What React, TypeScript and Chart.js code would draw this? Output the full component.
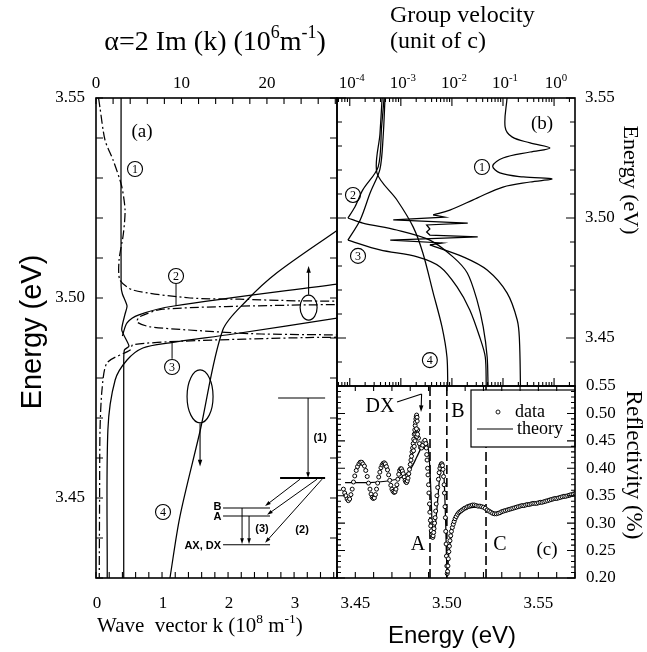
import React, { useEffect, useRef } from 'react';
import { Chart, registerables } from 'chart.js';

Chart.register(...registerables);

const W = 647;
const H = 652;
const SERIF = '"Liberation Serif", "DejaVu Serif", "Times New Roman", serif';
const SANS = '"Liberation Sans", "DejaVu Sans", Arial, sans-serif';

// ---------------- Panel (a): Re(k) (10^8 m^-1) and alpha (10^6 m^-1) vs energy (eV)
const branch1K = [0.38, 0.38, 0.40, 0.47, 0.44, 0.39, 0.50, 0.43, 0.42, 0.42];
const branch1E = [3.55, 3.503, 3.501, 3.498, 3.496, 3.492, 3.488, 3.487, 3.484, 3.43];
const branch2K = [0.40, 0.47, 0.65, 1.18, 3.66];
const branch2E = [3.4905, 3.4938, 3.4958, 3.498, 3.5035];
const branch3K = [0.17, 0.18, 0.29, 0.47, 0.71, 1.12, 2.08, 3.66];
const branch3E = [3.43, 3.467, 3.4795, 3.4845, 3.4875, 3.4888, 3.491, 3.495];
const branch4K = [1.12, 1.27, 1.58, 1.92, 2.29, 2.74, 3.66];
const branch4E = [3.43, 3.4453, 3.467, 3.492, 3.4995, 3.5063, 3.517];
const alphaE = [3.55, 3.5475, 3.5395, 3.5345, 3.528, 3.522, 3.516, 3.5095, 3.5045, 3.502, 3.5, 3.4997, 3.4993, 3.4988, 3.4982, 3.4972, 3.4953, 3.494, 3.4928, 3.492, 3.491, 3.4905, 3.4901, 3.4892, 3.4883, 3.487, 3.4838, 3.477, 3.467, 3.45, 3.43];
const alphaV = [0.3, 0.47, 1.05, 2.0, 3.0, 3.4, 3.2, 2.7, 2.8, 4.3, 11, 16.8, 23.5, 45, 22.6, 7.8, 5.1, 4.8, 6.3, 10.9, 19.4, 45, 24.7, 10, 4.3, 4.0, 1.3, 0.7, 0.47, 0.42, 0.38];

// ---------------- Panel (b): group velocity (unit of c) vs energy (eV)
const gv1TopE = [3.55, 3.538, 3.5338, 3.5313, 3.5292, 3.5275, 3.525, 3.5217, 3.5188, 3.5171, 3.5163, 3.515, 3.5129, 3.5083, 3.5033, 3.5013];
const gv1TopV = [0.12, 0.11, 0.15, 0.34, 0.83, 0.34, 0.10, 0.063, 0.087, 0.25, 0.91, 0.34, 0.10, 0.031, 0.0091, 0.0043];
const gv1SpikeE = [3.5013, 3.5004, 3.4992, 3.4979, 3.4971, 3.4954, 3.4942, 3.4929, 3.4921, 3.4908, 3.4896, 3.4888];
const gv1SpikeV = [0.0043, 0.0072, 0.00071, 0.0204, 0.0032, 0.0037, 0.0032, 0.0037, 0.032, 0.00062, 0.0065, 0.0037];
const gv1TailE = [3.4888, 3.4838, 3.4783, 3.4688, 3.4575, 3.4492, 3.43];
const gv1TailV = [0.0037, 0.0166, 0.049, 0.12, 0.19, 0.21, 0.22];
const gv2UpE = [3.55, 3.538, 3.5213, 3.5117, 3.5046, 3.50];
const gv2UpV = [4.7e-4, 4.2e-4, 3.6e-4, 1.8e-4, 1.26e-4, 9.2e-5];
const gv2LowE = [3.50, 3.4979, 3.495, 3.4908, 3.4838, 3.4771, 3.4658, 3.4546, 3.4421, 3.43];
const gv2LowV = [9.2e-5, 1.8e-4, 8.3e-4, 3.7e-3, 1.05e-2, 2.0e-2, 3.1e-2, 4.1e-2, 4.9e-2, 5.1e-2];
const gv3UpE = [3.55, 3.5338, 3.5204, 3.5104, 3.4992, 3.4908];
const gv3UpV = [4.9e-4, 4.5e-4, 3.9e-4, 2.5e-4, 1.6e-4, 9.2e-5];
const gv3LowE = [3.4908, 3.4867, 3.4838, 3.4796, 3.4713, 3.4617, 3.4504, 3.4421, 3.43];
const gv3LowV = [9.2e-5, 3.9e-4, 2.1e-3, 5.9e-3, 1.26e-2, 2.24e-2, 3.5e-2, 4.5e-2, 4.7e-2];
const gv4E = [3.55, 3.535, 3.5188, 3.5075, 3.4963, 3.4854, 3.4688, 3.4546, 3.4421, 3.43];
const gv4V = [4.3e-4, 3.9e-4, 3.4e-4, 8.4e-4, 1.74e-3, 2.7e-3, 4.3e-3, 6.4e-3, 8.0e-3, 8.3e-3];

// ---------------- Panel (c): reflectivity vs energy (eV)
const reflDataE = [
  3.4435, 3.4442, 3.4448, 3.4455, 3.4462, 3.4469, 3.4476, 3.4483, 3.449, 3.4497, 3.4505, 3.4512, 3.452, 3.4527, 3.4535, 3.4542, 3.455, 3.4557, 3.4565, 3.4572, 3.458, 3.4586, 3.4592, 3.4598, 3.4604, 3.461, 3.4616, 3.4622, 3.4628, 3.4634, 3.464, 3.4646, 3.4652, 3.4658, 3.4664, 3.467, 3.4676, 3.4682, 3.4688, 3.4694, 3.47, 3.4706, 3.4712, 3.4717, 3.4722, 3.4727, 3.4732, 3.4737, 3.4742, 3.4747, 3.4752, 3.4757, 3.4762, 3.4767, 3.4772, 3.4776, 3.478, 3.4784, 3.4788, 3.4792, 3.4796, 3.48, 3.4804, 3.4807, 3.481, 3.4813, 3.4816, 3.4819, 3.4822, 3.4825, 3.4827, 3.4829, 3.4831, 3.4833, 3.4835, 3.4837, 3.4838, 3.4841, 3.4845, 3.485, 3.4856, 3.4862, 3.4868, 3.4874, 3.488, 3.4885, 3.4888, 3.489, 3.4892, 3.4895, 3.4897, 3.49, 3.4902, 3.4905, 3.4907, 3.491, 3.4912, 3.4915, 3.4918, 3.492, 3.4923, 3.4925, 3.4928, 3.493, 3.4933, 3.4936, 3.4939, 3.4942, 3.4946, 3.495, 3.4954, 3.4958, 3.4962, 3.4966, 3.497, 3.4973, 3.4976, 3.4979, 3.4982, 3.4985, 3.4987, 3.499, 3.4992, 3.4994, 3.4996, 3.4998, 3.5, 3.5002, 3.5004, 3.5006, 3.5008, 3.5011, 3.5014, 3.5017, 3.5021, 3.5025, 3.503, 3.5035, 3.504, 3.5045, 3.5051, 3.5058, 3.5065, 3.5072, 3.508, 3.5088, 3.5096, 3.5105, 3.5113, 3.5122, 3.5131, 3.514, 3.515, 3.516, 3.517, 3.518, 3.519, 3.52, 3.521, 3.522, 3.523, 3.524, 3.525, 3.526, 3.527, 3.528, 3.529, 3.53, 3.531, 3.532, 3.533, 3.534, 3.535, 3.536, 3.537, 3.538, 3.539, 3.54, 3.541, 3.542, 3.543, 3.544, 3.545, 3.546, 3.547, 3.548, 3.549, 3.55, 3.551, 3.552, 3.553, 3.554, 3.555, 3.556, 3.557, 3.558, 3.559, 3.56, 3.561, 3.562, 3.563, 3.564, 3.565, 3.566, 3.567, 3.568, 3.569, 3.57,
  3.4826, 3.483, 3.4834, 3.4836, 3.484, 3.4818, 3.4822,
];
const reflDataR = [
  0.362, 0.355, 0.35, 0.344, 0.341, 0.344, 0.352, 0.362, 0.375, 0.386, 0.396, 0.403, 0.408, 0.411, 0.411, 0.408, 0.404, 0.396, 0.385, 0.373, 0.362, 0.353, 0.347, 0.345, 0.346, 0.352, 0.362, 0.373, 0.384, 0.393, 0.401, 0.406, 0.409, 0.41, 0.408, 0.403, 0.397, 0.388, 0.378, 0.369, 0.362, 0.358, 0.356, 0.357, 0.362, 0.37, 0.38, 0.389, 0.396, 0.399, 0.399, 0.395, 0.39, 0.384, 0.378, 0.375, 0.374, 0.377, 0.382, 0.39, 0.398, 0.407, 0.415, 0.422, 0.43, 0.437, 0.445, 0.453, 0.462, 0.47, 0.478, 0.484, 0.49, 0.494, 0.497, 0.493, 0.486, 0.47, 0.455, 0.445, 0.438, 0.437, 0.442, 0.448, 0.451, 0.445, 0.437, 0.425, 0.415, 0.4, 0.388, 0.37, 0.355, 0.335, 0.32, 0.305, 0.295, 0.286, 0.279, 0.275, 0.274, 0.277, 0.283, 0.29, 0.3, 0.31, 0.322, 0.335, 0.35, 0.365, 0.38, 0.392, 0.4, 0.405, 0.408, 0.408, 0.405, 0.398, 0.385, 0.37, 0.355, 0.33, 0.31, 0.285, 0.262, 0.24, 0.222, 0.208, 0.212, 0.222, 0.235, 0.248, 0.258, 0.268, 0.277, 0.285, 0.292, 0.298, 0.303, 0.308, 0.312, 0.316, 0.319, 0.321, 0.323, 0.325, 0.327, 0.328, 0.33, 0.331, 0.332, 0.333, 0.333, 0.332, 0.331, 0.331, 0.33, 0.329, 0.327, 0.324, 0.322, 0.32, 0.318, 0.317, 0.317, 0.318, 0.319, 0.321, 0.322, 0.323, 0.324, 0.325, 0.326, 0.327, 0.328, 0.329, 0.33, 0.331, 0.332, 0.332, 0.333, 0.334, 0.334, 0.335, 0.336, 0.336, 0.336, 0.337, 0.338, 0.338, 0.339, 0.34, 0.341, 0.342, 0.343, 0.344, 0.345, 0.345, 0.346, 0.347, 0.348, 0.349, 0.349, 0.35, 0.351, 0.352, 0.353, 0.354,
  0.45, 0.462, 0.472, 0.458, 0.462, 0.432, 0.44,
];
const theoryE = [3.4444, 3.458, 3.4727, 3.478, 3.4808, 3.4835, 3.4862, 3.488, 3.4893, 3.4904, 3.4913, 3.4922, 3.4929, 3.4944, 3.4962, 3.4975, 3.4984, 3.4993, 3.5002, 3.5013, 3.5035, 3.5071, 3.5126, 3.5199, 3.5272, 3.5381, 3.5545, 3.571];
const theoryR = [0.374, 0.374, 0.38, 0.39, 0.402, 0.42, 0.439, 0.451, 0.448, 0.417, 0.356, 0.283, 0.276, 0.319, 0.387, 0.408, 0.387, 0.307, 0.209, 0.252, 0.295, 0.319, 0.328, 0.328, 0.318, 0.327, 0.339, 0.351];
const excitonLineE = [3.4908, 3.5, 3.5214]; // A, B, C

// ---------------- tick labels
const energyTickLabelsA = [3.45, 3.5, 3.55];
const kTickLabels = [0, 1, 2, 3];
const alphaTickLabels = [0, 10, 20];
const gvDecadeExponents = [-4, -3, -2, -1, 0];
const energyTickLabelsB = [3.45, 3.5, 3.55];
const energyTickLabelsC = [3.45, 3.5, 3.55];
const reflTickLabels = [0.2, 0.25, 0.3, 0.35, 0.4, 0.45, 0.5, 0.55];

// ---------------- helpers
type Pt = { x: number; y: number };
const zip = (xs: number[], ys: number[]): Pt[] => xs.map((x, i) => ({ x, y: ys[i] }));

function steps(a: number, b: number, s: number): number[] {
  const out: number[] = [];
  const n = Math.round((b - a) / s);
  for (let i = 0; i <= n; i++) out.push(+(a + i * s).toFixed(6));
  return out;
}

function lineDs(data: Pt[], xAxisID: string, opts: any = {}) {
  return {
    data, xAxisID, yAxisID: 'y', showLine: true, borderColor: '#000', backgroundColor: '#000',
    borderWidth: 1.25, pointRadius: 0, pointHoverRadius: 0, tension: 0.3, fill: false, ...opts,
  };
}

function baseOpts(padding: any) {
  return {
    responsive: false, animation: false, devicePixelRatio: 1, events: [],
    layout: { padding },
    plugins: { legend: { display: false }, tooltip: { enabled: false }, title: { display: false } },
  };
}

function vTicks(ctx: any, scale: any, x: number, dir: number, values: number[], len: (v: number) => number, ca: any) {
  ctx.beginPath();
  for (const v of values) {
    const y = scale.getPixelForValue(v);
    if (y < ca.top - 0.5 || y > ca.bottom + 0.5) continue;
    ctx.moveTo(x, y);
    ctx.lineTo(x + dir * len(v), y);
  }
  ctx.stroke();
}

function hTicks(ctx: any, scale: any, y: number, dir: number, values: number[], len: (v: number) => number, ca: any) {
  ctx.beginPath();
  for (const v of values) {
    const x = scale.getPixelForValue(v);
    if (x < ca.left - 0.5 || x > ca.right + 0.5) continue;
    ctx.moveTo(x, y);
    ctx.lineTo(x, y + dir * len(v));
  }
  ctx.stroke();
}

function txt(ctx: any, s: string, x: number, y: number, font: string, align = 'center', baseline = 'middle') {
  ctx.font = font;
  ctx.textAlign = align;
  ctx.textBaseline = baseline;
  ctx.fillText(s, x, y);
}

type Seg = { t: string; sup?: boolean };
function rich(ctx: any, segs: Seg[], x: number, y: number, size: number, family: string, align = 'center') {
  const supSize = size * 0.64;
  let w = 0;
  for (const s of segs) {
    ctx.font = `${s.sup ? supSize : size}px ${family}`;
    w += ctx.measureText(s.t).width;
  }
  let cx = align === 'left' ? x : align === 'center' ? x - w / 2 : x - w;
  ctx.textAlign = 'left';
  ctx.textBaseline = 'alphabetic';
  for (const s of segs) {
    ctx.font = `${s.sup ? supSize : size}px ${family}`;
    ctx.fillText(s.t, cx, s.sup ? y - size * 0.42 : y);
    cx += ctx.measureText(s.t).width;
  }
}

function rotTxt(ctx: any, s: string, x: number, y: number, font: string, angle: number) {
  ctx.save();
  ctx.translate(x, y);
  ctx.rotate(angle);
  txt(ctx, s, 0, 0, font);
  ctx.restore();
}

function circNum(ctx: any, x: number, y: number, n: number) {
  ctx.beginPath();
  ctx.lineWidth = 1.1;
  ctx.arc(x, y, 7.5, 0, Math.PI * 2);
  ctx.stroke();
  txt(ctx, String(n), x, y + 0.5, `12px ${SERIF}`);
}

function seg(ctx: any, x1: number, y1: number, x2: number, y2: number, lw = 1.1) {
  ctx.beginPath();
  ctx.lineWidth = lw;
  ctx.moveTo(x1, y1);
  ctx.lineTo(x2, y2);
  ctx.stroke();
}

function arrow(ctx: any, x1: number, y1: number, x2: number, y2: number, head = 7, lw = 1.1) {
  const a = Math.atan2(y2 - y1, x2 - x1);
  seg(ctx, x1, y1, x2 - Math.cos(a) * head * 0.6, y2 - Math.sin(a) * head * 0.6, lw);
  ctx.beginPath();
  ctx.moveTo(x2, y2);
  ctx.lineTo(x2 - head * Math.cos(a - 0.32), y2 - head * Math.sin(a - 0.32));
  ctx.lineTo(x2 - head * Math.cos(a + 0.32), y2 - head * Math.sin(a + 0.32));
  ctx.closePath();
  ctx.fill();
}

function ellipse(ctx: any, x: number, y: number, rx: number, ry: number) {
  ctx.beginPath();
  ctx.lineWidth = 1.2;
  ctx.ellipse(x, y, rx, ry, 0, 0, Math.PI * 2);
  ctx.stroke();
}

function border(ctx: any, ca: any) {
  ctx.lineWidth = 1.6;
  ctx.strokeRect(ca.left, ca.top, ca.right - ca.left, ca.bottom - ca.top);
}

function logTickValues(min: number, max: number) {
  const out: { v: number; major: boolean }[] = [];
  for (let e = -6; e <= 2; e++) {
    for (let m = 1; m <= 9; m++) {
      const v = m * Math.pow(10, e);
      if (v >= min && v <= max) out.push({ v, major: m === 1 });
    }
  }
  return out;
}

// ---------------- decorations (axes drawn through the chart scales)
const decorA = {
  id: 'decorA',
  afterDraw(chart: any) {
    const { ctx, chartArea: ca, scales } = chart;
    const sx = scales.x, sa = scales.x2, sy = scales.y;
    const P = (k: number, e: number) => [sx.getPixelForValue(k), sy.getPixelForValue(e)];
    ctx.save();
    ctx.strokeStyle = '#000';
    ctx.fillStyle = '#000';
    border(ctx, ca);
    ctx.lineWidth = 1.1;
    const eT = steps(3.43, 3.55, 0.01);
    vTicks(ctx, sy, ca.left, 1, eT, () => 7, ca);
    vTicks(ctx, sy, ca.right, -1, eT, () => 7, ca);
    hTicks(ctx, sx, ca.bottom, -1, steps(0, 3.6, 0.2), () => 6, ca);
    hTicks(ctx, sa, ca.top, 1, steps(0, 28, 2), () => 6, ca);

    for (const v of energyTickLabelsA) txt(ctx, v.toFixed(2), ca.left - 11, sy.getPixelForValue(v), `17px ${SERIF}`, 'right');
    for (const v of kTickLabels) txt(ctx, String(v), sx.getPixelForValue(v) + 1, ca.bottom + 30, `17px ${SERIF}`, 'center', 'alphabetic');
    for (const v of alphaTickLabels) txt(ctx, String(v), sa.getPixelForValue(v), ca.top - 10, `17px ${SERIF}`, 'center', 'alphabetic');

    // axis titles
    rich(ctx, [{ t: '\u03b1=2 Im (k) (10' }, { t: '6', sup: true }, { t: 'm' }, { t: '-1', sup: true }, { t: ')' }], 215, 50, 28, SERIF, 'center');
    rich(ctx, [{ t: 'Wave  vector k (10' }, { t: '8', sup: true }, { t: ' m' }, { t: '-1', sup: true }, { t: ')' }], 97, 632, 21, SERIF, 'left');
    rotTxt(ctx, 'Energy (eV)', 33, 332, `29px ${SANS}`, -Math.PI / 2);

    // annotations
    let [x, y] = P(0.697, 3.5415);
    txt(ctx, '(a)', x, y, `19px ${SERIF}`);
    [x, y] = P(0.591, 3.53225); circNum(ctx, x, y, 1);
    [x, y] = P(1.212, 3.5055); circNum(ctx, x, y, 2);
    let [px1, py1] = P(1.212, 3.5035); let [px2, py2] = P(1.212, 3.498); seg(ctx, px1, py1, px2, py2, 1);
    [x, y] = P(1.152, 3.48275); circNum(ctx, x, y, 3);
    [px1, py1] = P(1.152, 3.4848); [px2, py2] = P(1.152, 3.489); seg(ctx, px1, py1, px2, py2, 1);
    [x, y] = P(1.015, 3.4465); circNum(ctx, x, y, 4);

    [x, y] = P(3.22, 3.4976); ellipse(ctx, x, y, 8.5, 12.5);
    [px1, py1] = P(3.22, 3.5008); [px2, py2] = P(3.22, 3.508); arrow(ctx, px1, py1, px2, py2);
    [x, y] = P(1.576, 3.4754); ellipse(ctx, x, y, 13, 26.5);
    [px1, py1] = P(1.576, 3.4686); [px2, py2] = P(1.576, 3.4579); arrow(ctx, px1, py1, px2, py2);

    // level scheme
    const bold = `bold 11px ${SANS}`;
    const lvl = (k1: number, k2: number, e: number, lw = 1.1) => { const a = P(k1, e), b = P(k2, e); seg(ctx, a[0], a[1], b[0], b[1], lw); };
    const arr = (k1: number, e1: number, k2: number, e2: number) => { const a = P(k1, e1), b = P(k2, e2); arrow(ctx, a[0], a[1], b[0], b[1], 6, 1); };
    lvl(2.758, 3.47, 3.475);
    arr(3.212, 3.475, 3.212, 3.455);
    lvl(2.788, 3.47, 3.455, 2);
    [x, y] = P(3.394, 3.465); txt(ctx, '(1)', x, y, bold);
    arr(3.091, 3.4547, 2.561, 3.448);
    arr(3.348, 3.4547, 2.591, 3.4458);
    arr(3.424, 3.4547, 2.561, 3.4388);
    [x, y] = P(3.121, 3.442); txt(ctx, '(2)', x, y, bold);
    lvl(1.924, 2.636, 3.4475);
    lvl(1.924, 2.636, 3.4455);
    lvl(1.924, 2.636, 3.4383);
    [x, y] = P(1.84, 3.4477); txt(ctx, 'B', x, y, bold);
    [x, y] = P(1.84, 3.4452); txt(ctx, 'A', x, y, bold);
    [x, y] = P(1.894, 3.4381); txt(ctx, 'AX, DX', x, y, bold, 'right');
    arr(2.212, 3.4475, 2.212, 3.4385);
    arr(2.318, 3.4455, 2.318, 3.4385);
    [x, y] = P(2.515, 3.4422); txt(ctx, '(3)', x, y, bold);
    ctx.restore();
  },
};

const decorB = {
  id: 'decorB',
  afterDraw(chart: any) {
    const { ctx, chartArea: ca, scales } = chart;
    const sx = scales.x, sy = scales.y;
    const P = (v: number, e: number) => [sx.getPixelForValue(v), sy.getPixelForValue(e)];
    ctx.save();
    ctx.strokeStyle = '#000';
    ctx.fillStyle = '#000';
    border(ctx, ca);
    ctx.lineWidth = 1.1;
    const lt = logTickValues(sx.min, sx.max);
    const ltv = lt.map((t) => t.v);
    const isMajor = (v: number) => lt.find((t) => t.v === v)!.major;
    hTicks(ctx, sx, ca.top, 1, ltv, (v) => (isMajor(v) ? 8 : 4), ca);
    hTicks(ctx, sx, ca.bottom, -1, ltv, (v) => (isMajor(v) ? 8 : 4), ca);
    const eT = steps(3.43, 3.55, 0.01);
    const eLen = (v: number) => (Math.abs(Math.round(v * 100) % 5) === 0 ? 9 : 5);
    vTicks(ctx, sy, ca.left, 1, eT, eLen, ca);
    vTicks(ctx, sy, ca.right, -1, eT, eLen, ca);

    for (const e of gvDecadeExponents) rich(ctx, [{ t: '10' }, { t: String(e), sup: true }], sx.getPixelForValue(Math.pow(10, e)) + 2, ca.top - 10, 17, SERIF, 'center');
    for (const v of energyTickLabelsB) txt(ctx, v.toFixed(2), ca.right + 10, sy.getPixelForValue(v), `17px ${SERIF}`, 'left');

    txt(ctx, 'Group velocity', 390, 22, `24px ${SERIF}`, 'left', 'alphabetic');
    txt(ctx, '(unit of c)', 390, 48, `24px ${SERIF}`, 'left', 'alphabetic');
    rotTxt(ctx, 'Energy (eV)', 630, 180, `22px ${SERIF}`, Math.PI / 2);

    let [x, y] = P(0.58, 3.5392); txt(ctx, '(b)', x, y, `19px ${SERIF}`);
    [x, y] = P(0.0388, 3.52125); circNum(ctx, x, y, 1);
    [x, y] = P(1.156e-4, 3.5096); circNum(ctx, x, y, 2);
    [x, y] = P(1.45e-4, 3.4842); circNum(ctx, x, y, 3);
    [x, y] = P(3.7e-3, 3.4408); circNum(ctx, x, y, 4);
    ctx.restore();
  },
};

const decorC = {
  id: 'decorC',
  afterDraw(chart: any) {
    const { ctx, chartArea: ca, scales } = chart;
    const sx = scales.x, sy = scales.y;
    const P = (e: number, r: number) => [sx.getPixelForValue(e), sy.getPixelForValue(r)];
    ctx.save();
    ctx.strokeStyle = '#000';
    ctx.fillStyle = '#000';

    // legend box
    const lx = ca.right - 104, ly = ca.top + 4, lw = 104, lh = 57;
    ctx.fillStyle = '#fff';
    ctx.fillRect(lx, ly, lw, lh);
    ctx.fillStyle = '#000';
    ctx.lineWidth = 1.2;
    ctx.strokeRect(lx, ly, lw, lh);
    ctx.beginPath();
    ctx.lineWidth = 0.9;
    ctx.arc(lx + 27, ly + 22, 2, 0, Math.PI * 2);
    ctx.stroke();
    txt(ctx, 'data', lx + 44, ly + 22, `18px ${SERIF}`, 'left');
    seg(ctx, lx + 6, ly + 39, lx + 42, ly + 39, 1.2);
    txt(ctx, 'theory', lx + 46, ly + 39, `18px ${SERIF}`, 'left');

    border(ctx, ca);
    ctx.lineWidth = 1.1;
    const rT = steps(0.2, 0.55, 0.01);
    const rLen = (v: number) => (Math.abs(Math.round(v * 100) % 5) === 0 ? 8 : 4);
    vTicks(ctx, sy, ca.left, 1, rT, rLen, ca);
    vTicks(ctx, sy, ca.right, -1, rT, rLen, ca);
    const eT = steps(3.44, 3.57, 0.01);
    hTicks(ctx, sx, ca.bottom, -1, eT, () => 6, ca);
    hTicks(ctx, sx, ca.top, 1, eT, () => 5, ca);

    for (const v of energyTickLabelsC) txt(ctx, v.toFixed(2), sx.getPixelForValue(v), ca.bottom + 30, `17px ${SERIF}`, 'center', 'alphabetic');
    for (const v of reflTickLabels) txt(ctx, v.toFixed(2), ca.right + 11, sy.getPixelForValue(v), `17px ${SERIF}`, 'left');

    rotTxt(ctx, 'Reflectivity (%)', 633, 465, `23px ${SERIF}`, Math.PI / 2);
    txt(ctx, 'Energy (eV)', 452, 643, `24px ${SANS}`, 'center', 'alphabetic');

    let [x, y] = P(3.4635, 0.5117); txt(ctx, 'DX', x, y, `20px ${SERIF}`);
    let [ax1, ay1] = P(3.4728, 0.5208); let [ax2, ay2] = P(3.4862, 0.5354); seg(ctx, ax1, ay1, ax2, ay2, 1.1);
    let [ax3, ay3] = P(3.4859, 0.5026); arrow(ctx, ax2, ay2, ax3, ay3, 7, 1.1);
    [x, y] = P(3.5061, 0.5026); txt(ctx, 'B', x, y, `20px ${SERIF}`);
    [x, y] = P(3.4842, 0.2601); txt(ctx, 'A', x, y, `20px ${SERIF}`);
    [x, y] = P(3.529, 0.2601); txt(ctx, 'C', x, y, `20px ${SERIF}`);
    [x, y] = P(3.5547, 0.251); txt(ctx, '(c)', x, y, `19px ${SERIF}`);
    ctx.restore();
  },
};

// ---------------- charts
function makeA(canvas: HTMLCanvasElement) {
  return new Chart(canvas, {
    type: 'scatter',
    data: {
      datasets: [
        lineDs(zip(branch1K, branch1E), 'x', { tension: 0.2 }),
        lineDs(zip(branch2K, branch2E), 'x'),
        lineDs(zip(branch3K, branch3E), 'x'),
        lineDs(zip(branch4K, branch4E), 'x'),
        lineDs(zip(alphaV, alphaE), 'x2', { borderDash: [9, 3, 2, 3], tension: 0.25 }),
      ],
    },
    options: {
      ...baseOpts({ left: 96, top: 98, right: W - 337, bottom: H - 578 }),
      scales: {
        x: { type: 'linear', min: 0, max: 3.65, display: false },
        x2: { type: 'linear', position: 'top', min: 0, max: 28.2, display: false },
        y: { type: 'linear', min: 3.43, max: 3.55, display: false },
      },
    } as any,
    plugins: [decorA],
  } as any);
}

function makeB(canvas: HTMLCanvasElement) {
  return new Chart(canvas, {
    type: 'scatter',
    data: {
      datasets: [
        lineDs(zip(gv1TopV, gv1TopE), 'x', { tension: 0.35 }),
        lineDs(zip(gv1SpikeV, gv1SpikeE), 'x', { tension: 0 }),
        lineDs(zip(gv1TailV, gv1TailE), 'x', { tension: 0.35 }),
        lineDs(zip(gv2UpV, gv2UpE), 'x'),
        lineDs(zip(gv2LowV, gv2LowE), 'x'),
        lineDs(zip(gv3UpV, gv3UpE), 'x'),
        lineDs(zip(gv3LowV, gv3LowE), 'x'),
        lineDs(zip(gv4V, gv4E), 'x'),
      ],
    },
    options: {
      ...baseOpts({ left: 337, top: 98, right: W - 575, bottom: H - 386 }),
      scales: {
        x: { type: 'logarithmic', min: Math.pow(10, -4.25), max: Math.pow(10, 0.41), display: false },
        y: { type: 'linear', min: 3.43, max: 3.55, display: false },
      },
    } as any,
    plugins: [decorB],
  } as any);
}

function makeC(canvas: HTMLCanvasElement) {
  return new Chart(canvas, {
    type: 'scatter',
    data: {
      datasets: [
        {
          data: zip(reflDataE, reflDataR), xAxisID: 'x', yAxisID: 'y', showLine: false,
          pointRadius: 2, pointHoverRadius: 2, pointStyle: 'circle', borderColor: '#000',
          backgroundColor: '#fff', borderWidth: 1,
        },
        lineDs(zip(theoryE, theoryR), 'x', { tension: 0.3 }),
        ...excitonLineE.map((e) =>
          lineDs([{ x: e, y: 0.2 }, { x: e, y: 0.55 }], 'x', { borderDash: [9, 4], borderWidth: 1.6, tension: 0 })
        ),
      ],
    },
    options: {
      ...baseOpts({ left: 337, top: 386, right: W - 575, bottom: H - 578 }),
      scales: {
        x: { type: 'linear', min: 3.44, max: 3.57, display: false },
        y: { type: 'linear', min: 0.2, max: 0.55, display: false },
      },
    } as any,
    plugins: [decorC],
  } as any);
}

export default function App() {
  const refA = useRef<HTMLCanvasElement>(null);
  const refB = useRef<HTMLCanvasElement>(null);
  const refC = useRef<HTMLCanvasElement>(null);
  useEffect(() => {
    const charts = [makeA(refA.current!), makeB(refB.current!), makeC(refC.current!)];
    return () => charts.forEach((c) => c.destroy());
  }, []);
  const st: React.CSSProperties = { position: 'absolute', left: 0, top: 0, width: W, height: H };
  return (
    <div style={{ position: 'absolute', left: 0, top: 0, width: W, height: H, background: '#fff' }}>
      <canvas ref={refA} width={W} height={H} style={st} />
      <canvas ref={refB} width={W} height={H} style={st} />
      <canvas ref={refC} width={W} height={H} style={st} />
    </div>
  );
}
